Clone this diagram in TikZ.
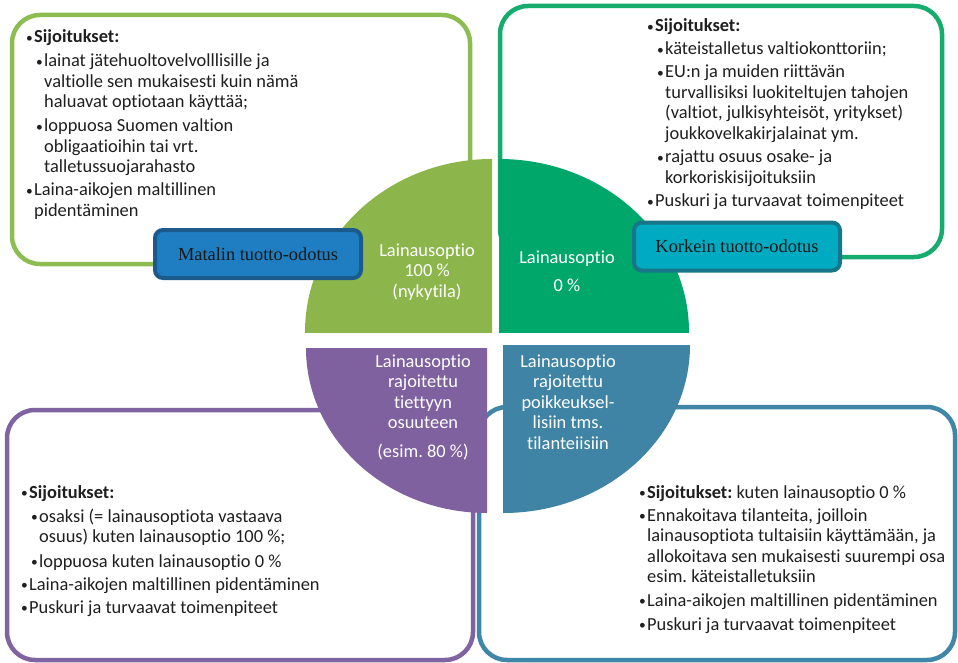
\documentclass[tikz,border=0pt]{standalone}
\usepackage{fontspec}
\setmainfont{Carlito}[Ligatures={NoCommon,NoContextual}]
\newfontfamily\serifA{Liberation Serif}
\frenchspacing
\definecolor{gA}{RGB}{140,182,75}
\definecolor{gB}{RGB}{0,167,106}
\definecolor{pC}{RGB}{128,97,160}
\definecolor{bD}{RGB}{64,132,165}
\definecolor{gAline}{RGB}{141,188,80}
\definecolor{gBline}{RGB}{22,172,110}
\definecolor{pCline}{RGB}{128,100,162}
\definecolor{bDline}{RGB}{63,134,168}
\definecolor{tagAfill}{RGB}{31,126,193}
\definecolor{tagAline}{RGB}{28,90,140}
\definecolor{tagBfill}{RGB}{0,171,194}
\definecolor{tagBline}{RGB}{23,118,137}
\newcommand\bul{\makebox[8pt][l]{\raisebox{0.8pt}{\fontsize{13.5}{13.5}\selectfont •}}}
\newcommand\itm[1]{\bul\begin{tabular}[t]{@{}l@{}}#1\end{tabular}}
\newcommand\ctr[1]{\begin{tabular}[t]{@{}c@{}}#1\end{tabular}}
\begin{document}
\begin{tikzpicture}[x=1pt,y=-1pt,
  boxline/.style={line width=4.5pt, rounded corners=28pt},
  item/.style={inner sep=0pt, anchor=base west, text=black!88,
    font=\fontsize{18.4}{20.5}\selectfont},
  qtxt/.style={inner sep=0pt, anchor=base, text=white,
    font=\fontsize{18.4}{20.5}\selectfont},
  tag/.style={rounded corners=8pt, line width=4pt, minimum width=206pt,
    minimum height=48pt, inner sep=0pt, text=black!90,
    font=\serifA\fontsize{18.4}{20}\selectfont}]
\useasboundingbox (0,0) rectangle (958,663);
\fill[white] (0,0) rectangle (958,663);

% outline boxes
\draw[boxline, draw=gAline] (12,15) rectangle (470,264);
\draw[boxline, draw=gBline] (500,6) rectangle (942,257);
\draw[boxline, draw=pCline] (7,410) rectangle (473,660);
\draw[boxline, draw=bDline] (479,407) rectangle (955,660);

% quadrants
\begin{scope}
  \clip (0,0) rectangle (492,332);
  \fill[gA] (492,332) ellipse [x radius=187pt, y radius=173pt];
\end{scope}
\begin{scope}
  \clip (499,0) rectangle (958,332);
  \fill[gB] (499,332) ellipse [x radius=190pt, y radius=173pt];
\end{scope}
\begin{scope}
  \clip (0,348) rectangle (487,663);
  \fill[pC] (487,348) ellipse [x radius=181pt, y radius=165pt];
\end{scope}
\begin{scope}
  \clip (503,345) rectangle (958,663);
  \fill[bD] (503,345) ellipse [x radius=187pt, y radius=168pt];
\end{scope}

% tags
\node[tag, fill=tagAfill, draw=tagAline] (low) at (258,254) {Matalin tuotto-odotus};
\node[tag, fill=tagBfill, draw=tagBline] (high) at (737,246.5) {Korkein tuotto-odotus};

% quadrant texts
\node[qtxt] (q1) at (427,256) {\ctr{Lainausoptio\\100 \%\\(nykytila)}};
\node[qtxt] (q2a) at (567,263) {Lainausoptio};
\node[qtxt] (q2b) at (567,291) {0 \%};
\node[qtxt] (q3a) at (423,367) {\ctr{Lainausoptio\\rajoitettu\\tiettyyn\\osuuteen}};
\node[qtxt] (q3b) at (423,457) {(esim. 80 \%)};
\node[qtxt] (q4) at (568,367) {\ctr{Lainausoptio\\rajoitettu\\poikkeuksel-\\lisiin tms.\\tilanteiisiin}};

% top-left box text
\node[item] (a1) at (26,43) {\itm{\textbf{Sijoitukset:}}};
\node[item] (a2) at (36,67) {\itm{lainat jätehuoltovelvolllisille ja\\valtiolle sen mukaisesti kuin nämä\\haluavat optiotaan käyttää;}};
\node[item] (a3) at (36,132) {\itm{loppuosa Suomen valtion\\obligaatioihin tai vrt.\\talletussuojarahasto}};
\node[item] (a4) at (26,196) {\itm{Laina-aikojen maltillinen\\pidentäminen}};

% top-right box text
\node[item] (b1) at (647,32) {\itm{\textbf{Sijoitukset:}}};
\node[item] (b2) at (657,55) {\itm{käteistalletus valtiokonttoriin;}};
\node[item] (b3) at (657,78) {\itm{EU:n ja muiden riittävän\\turvallisiksi luokiteltujen tahojen\\(valtiot, julkisyhteisöt, yritykset)\\joukkovelkakirjalainat ym.}};
\node[item] (b4) at (657,163) {\itm{rajattu osuus osake- ja\\korkoriskisijoituksiin}};
\node[item] (b5) at (647,207) {\itm{Puskuri ja turvaavat toimenpiteet}};

% bottom-left box text
\node[item] (c1) at (21,498) {\itm{\textbf{Sijoitukset:}}};
\node[item] (c2) at (31,522) {\itm{osaksi (= lainausoptiota vastaava\\osuus) kuten lainausoptio 100 \%;}};
\node[item] (c3) at (31,567) {\itm{loppuosa kuten lainausoptio 0 \%}};
\node[item] (c4) at (21,590) {\itm{Laina-aikojen maltillinen pidentäminen}};
\node[item] (c5) at (21,613) {\itm{Puskuri ja turvaavat toimenpiteet}};

% bottom-right box text
\node[item] (d1) at (639,498) {\itm{\textbf{Sijoitukset:} kuten lainausoptio 0 \%}};
\node[item] (d2) at (639,521) {\itm{Ennakoitava tilanteita, joilloin\\lainausoptiota tultaisiin käyttämään, ja\\allokoitava sen mukaisesti suurempi osa\\esim. käteistalletuksiin}};
\node[item] (d3) at (639,606) {\itm{Laina-aikojen maltillinen pidentäminen}};
\node[item] (d4) at (639,630) {\itm{Puskuri ja turvaavat toimenpiteet}};
\end{tikzpicture}
\end{document}
